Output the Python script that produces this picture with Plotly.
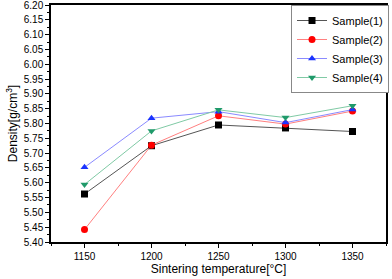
import plotly.graph_objects as go

temps = [1150, 1200, 1250, 1300, 1350]
sample1 = [5.562, 5.725, 5.795, 5.785, 5.773]
sample2 = [5.442, 5.727, 5.826, 5.798, 5.842]
sample3 = [5.652, 5.818, 5.840, 5.803, 5.847]
sample4 = [5.594, 5.775, 5.846, 5.820, 5.860]
names = ["Sample(1)", "Sample(2)", "Sample(3)", "Sample(4)"]
y_ticks = [round(5.40 + 0.05 * i, 2) for i in range(17)]
x_ticks = [1150, 1200, 1250, 1300, 1350]

styles = [
    ("#000000", "#555555", "square"),
    ("#ff0000", "#ff8080", "circle"),
    ("#1a33ff", "#8a8aff", "triangle-up"),
    ("#1f9a6a", "#80caa5", "triangle-down"),
]

fig = go.Figure()
for name, vals, (mc, lc, sym) in zip(names, [sample1, sample2, sample3, sample4], styles):
    fig.add_trace(go.Scatter(
        x=temps, y=vals, name=name, mode="lines+markers",
        line=dict(color=lc, width=1),
        marker=dict(color=mc, symbol=sym, size=7),
    ))

axis_common = dict(
    showline=True, linecolor="#000000", linewidth=1.5, mirror=True,
    showgrid=False, zeroline=False, ticks="outside", ticklen=4, tickwidth=1,
    tickcolor="#000000", automargin=False, ticklabeloverflow="allow",
    tickfont=dict(family="Arial, Liberation Sans", size=10, color="#000000"),
)

fig.update_layout(
    width=392, height=279,
    margin=dict(l=51, r=3, t=5, b=37),
    paper_bgcolor="white", plot_bgcolor="white",
    font=dict(family="Arial, Liberation Sans", color="#000000"),
    xaxis=dict(range=[1125, 1375], tickvals=x_ticks,
               minor=dict(ticks="outside", ticklen=2, dtick=25, tick0=1125, tickcolor="#000000"),
               title=dict(text="Sintering temperature[°C]", font=dict(size=12), standoff=4),
               **axis_common),
    yaxis=dict(range=[5.40, 6.20], tickvals=y_ticks, ticktext=[f"{v:.2f}" for v in y_ticks],
               minor=dict(ticks="outside", ticklen=2, dtick=0.025, tick0=5.40, tickcolor="#000000"),
               title=dict(text="Density[g/cm<sup>3</sup>]", font=dict(size=12), standoff=4),
               **axis_common),
    legend=dict(x=1.009, xanchor="right", y=1.0, yanchor="top",
                bgcolor="white", bordercolor="#888888", borderwidth=1,
                font=dict(size=11), tracegroupgap=0, itemwidth=30),
)

fig.write_html("out.html", config={"displayModeBar": False},
               post_script="document.body.style.margin='0';document.body.style.overflow='hidden';")
